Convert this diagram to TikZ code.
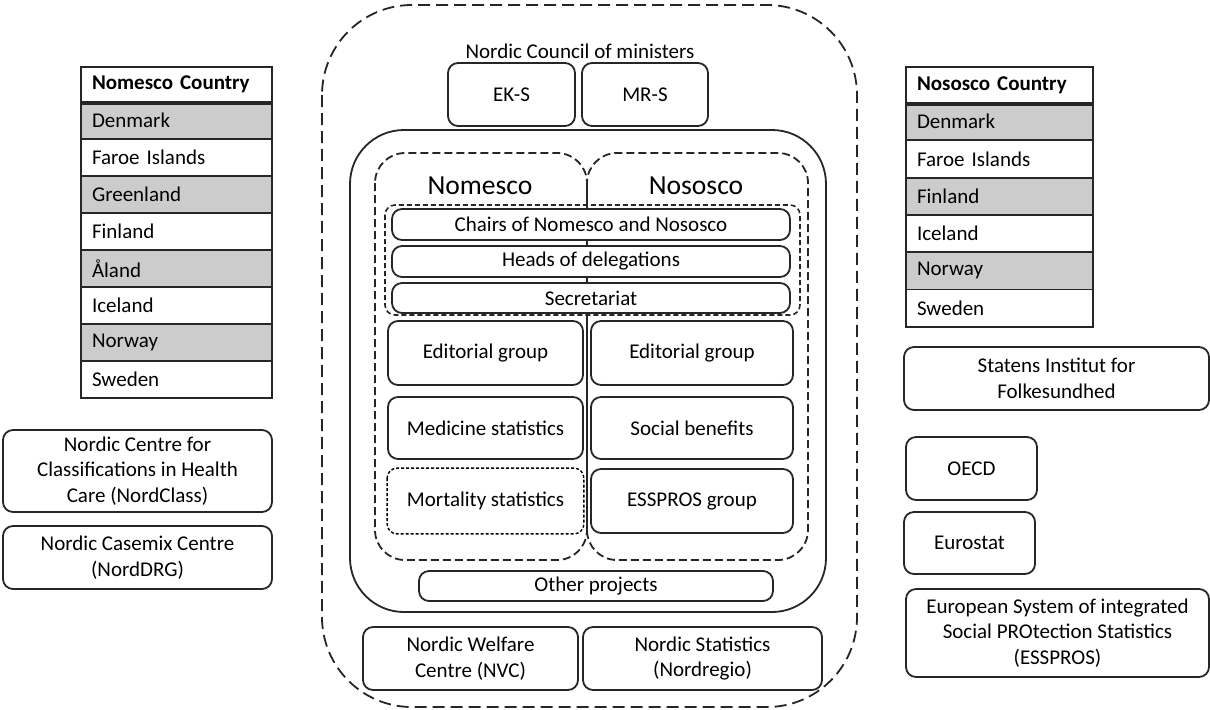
\documentclass[tikz,border=0pt]{standalone}
\usepackage{fontspec}
\setmainfont{Carlito}

\tikzset{
  txt/.style={font=\fontsize{10.5pt}{12.8pt}\selectfont},
  box/.style={txt, draw=black!85, line width=0.9pt, rounded corners=5pt, fill=white,
    align=center, inner sep=0pt},
  cell/.style={txt, draw=black!85, line width=0.9pt, inner xsep=5.5pt, inner ysep=0pt,
    minimum height=18.5pt, align=left},
  headcell/.style={cell, font=\fontsize{10.5pt}{12.8pt}\selectfont\bfseries, fill=white},
  bigdash/.style={draw=black!85, line width=0.9pt, dash pattern=on 6pt off 3pt},
  middash/.style={draw=black!85, line width=0.9pt, dash pattern=on 4pt off 2pt},
  smalldash/.style={draw=black!85, line width=0.8pt, dash pattern=on 2.5pt off 1.5pt},
}

\begin{document}
\begin{tikzpicture}[x=0.5pt, y=-0.5pt]
  \useasboundingbox (0,0) rectangle (1210,709);

  % council frame and the common frame
  \draw[bigdash, rounded corners=45pt] (322,5) rectangle (857,707);
  \draw[draw=black!85, line width=0.9pt, rounded corners=27pt] (350,130) rectangle (826,612);
  \draw[middash, rounded corners=15pt] (375,153) rectangle (587,560);
  \draw[middash, rounded corners=15pt] (587,153) rectangle (808,560);
  \draw[draw=black!85, line width=0.7pt] (587,182) -- (587,532);
  \draw[smalldash, rounded corners=5pt] (385,205) rectangle (800,315);

  \node[txt] (council) at (580,51) {Nordic Council of ministers};
  \node[box, minimum width=63.5pt, minimum height=31.5pt] (eks) at (511.5,94.5) {EK-S};
  \node[box, minimum width=63pt, minimum height=31.5pt] (mrs) at (645,94.5) {MR-S};

  \node[font=\fontsize{13.8pt}{16pt}\selectfont] (nomesco) at (480,186) {Nomesco};
  \node[font=\fontsize{13.8pt}{16pt}\selectfont] (nososco) at (696,186) {Nososco};

  \node[box, minimum width=199pt, minimum height=15.5pt] (chairs) at (591,224.5) {Chairs of Nomesco and Nososco};
  \node[box, minimum width=199pt, minimum height=15.5pt] (heads) at (591,261.5) {Heads of delegations};
  \node[box, minimum width=199pt, minimum height=15pt] (secr) at (591,298) {Secretariat};

  \node[box, minimum width=97.5pt, minimum height=32pt] (edleft) at (485.5,353) {Editorial group};
  \node[box, minimum width=97.5pt, minimum height=31pt] (medicine) at (485.5,428) {Medicine statistics};
  \node[box, draw=none, minimum width=97.5pt, minimum height=32pt] (mortality) at (485.5,501) {Mortality statistics};
  \draw[line width=0.7pt, dash pattern=on 1.5pt off 1pt, rounded corners=5pt]
    (mortality.north west) rectangle (mortality.south east);
  \node[box, minimum width=101pt, minimum height=32pt] (edright) at (692,353) {Editorial group};
  \node[box, minimum width=101pt, minimum height=31pt] (benefits) at (692,428) {Social benefits};
  \node[box, minimum width=101pt, minimum height=32pt] (esspgroup) at (692,501) {ESSPROS group};

  \node[box, minimum width=177pt, minimum height=15pt] (other) at (596,586) {Other projects};
  \node[box, minimum width=107.5pt, minimum height=31.5pt] (nvc) at (470.5,658.5) {Nordic Welfare\\Centre (NVC)};
  \node[box, minimum width=119.5pt, minimum height=31.5pt] (nordregio) at (702.5,658.5) {Nordic Statistics\\(Nordregio)};

  % country tables
  \node[headcell, text width=84.5pt, minimum height=17.5pt] (nmhead) at (176.5,84.5) {Nomesco Country};
  \foreach \name/\shade [count=\i] in {Denmark/gray!40, Faroe Islands/white, Greenland/gray!40,
      Finland/white, Åland/gray!40, Iceland/white, Norway/gray!40, Sweden/white}
    \node[cell, fill=\shade, text width=84.5pt] (nm\i) at (176.5,{102+37*(\i-0.5)}) {\name};
  \draw[line width=1.6pt, black!85] (nmhead.south west) -- (nmhead.south east);

  \node[headcell, text width=82.5pt, minimum height=18pt] (nshead) at (999.5,85) {Nososco Country};
  \foreach \name/\shade [count=\i] in {Denmark/gray!40, Faroe Islands/white, Finland/gray!40,
      Iceland/white, Norway/gray!40, Sweden/white}
    \node[cell, fill=\shade, text width=82.5pt, minimum height=18.65pt] (ns\i) at (999.5,{103+37.3*(\i-0.5)}) {\name};
  \draw[line width=1.6pt, black!85] (nshead.south west) -- (nshead.south east);

  % partners left
  \node[box, minimum width=134.5pt, minimum height=41pt] (nordclass) at (137.5,471) {Nordic Centre for\\Classifications in Health\\Care (NordClass)};
  \node[box, minimum width=134.5pt, minimum height=31.5pt] (norddrg) at (137.5,557.5) {Nordic Casemix Centre\\(NordDRG)};

  % partners right
  \node[box, minimum width=152.5pt, minimum height=31.5pt] (sif) at (1056.5,378.5) {Statens Institut for\\Folkesundhed};
  \node[box, minimum width=65.5pt, minimum height=31.5pt] (oecd) at (971.5,468.5) {OECD};
  \node[box, minimum width=65.5pt, minimum height=31pt] (eurostat) at (969.5,543) {Eurostat};
  \node[box, minimum width=151.5pt, minimum height=44pt] (esspros) at (1057.5,633) {European System of integrated\\Social PROtection Statistics\\(ESSPROS)};
\end{tikzpicture}
\end{document}
